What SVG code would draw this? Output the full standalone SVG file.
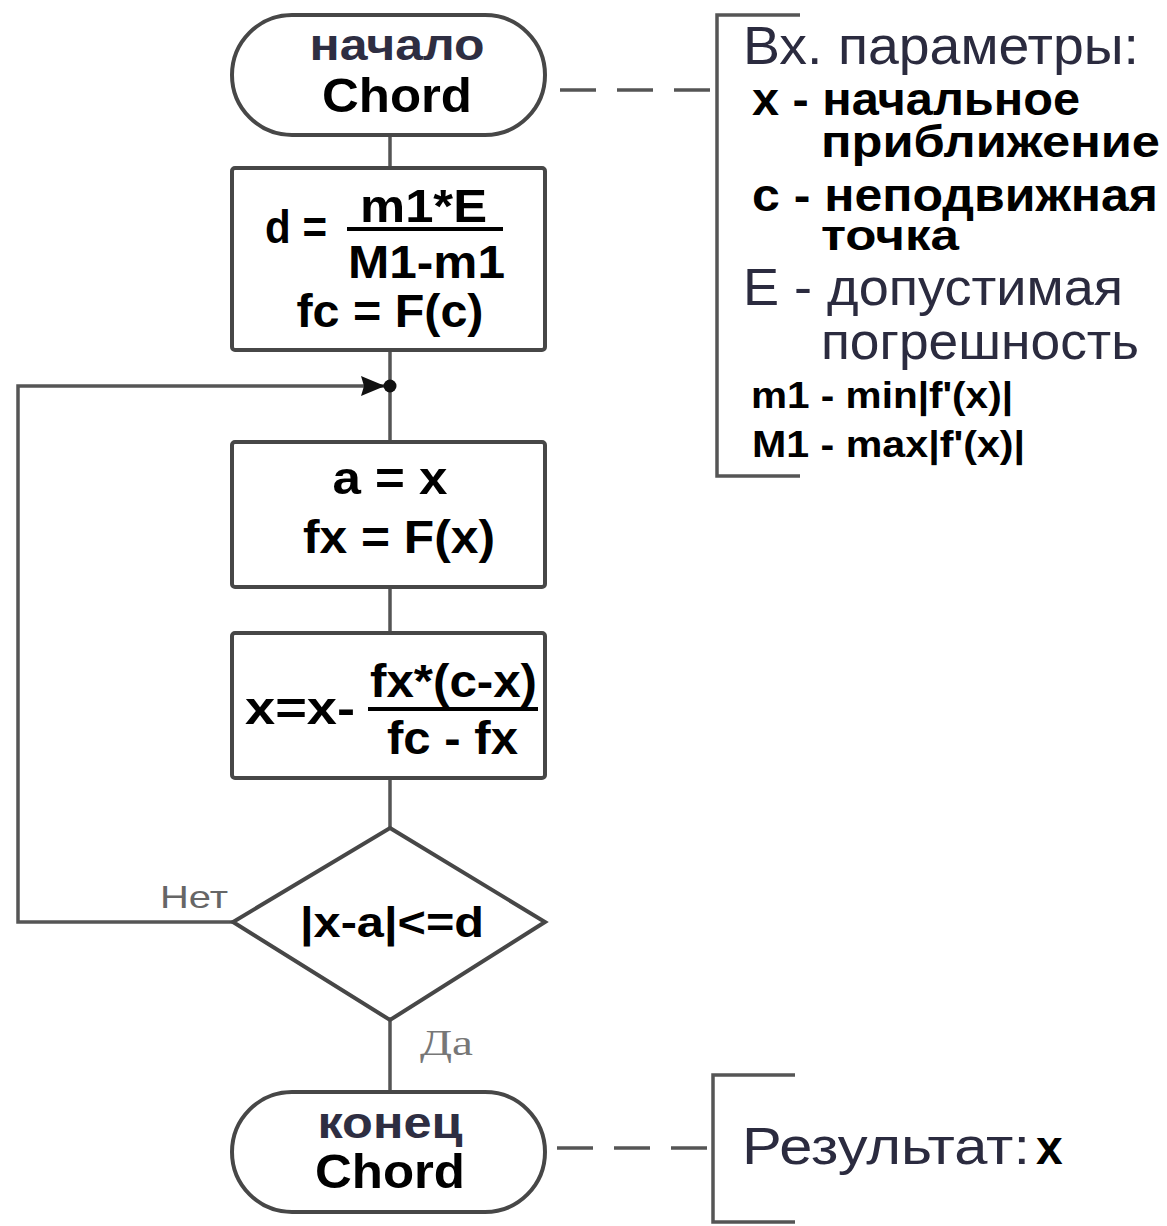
<svg xmlns="http://www.w3.org/2000/svg" width="1167" height="1226" viewBox="0 0 1167 1226">
<defs>
<style>
.shape{fill:#fff;stroke:#474747;stroke-width:4}
.line{fill:none;stroke:#555;stroke-width:3.5}
.dash{fill:none;stroke:#555;stroke-width:3.5;stroke-dasharray:36 21}
.t{font-family:"Liberation Sans",Arial,sans-serif;font-weight:bold;fill:#000}
.r{font-family:"Liberation Sans",Arial,sans-serif;fill:#2b2b3f}
.c{text-anchor:middle}
.soft{fill:#2e2e42}
.frac{stroke:#000;stroke-width:4}
</style>
<marker id="arr" markerWidth="24" markerHeight="20" viewBox="0 0 24 20" refX="23" refY="10" orient="auto" markerUnits="userSpaceOnUse">
<path d="M0,0 L24,10 L0,20 L3,10 z" fill="#111"/>
</marker>
</defs>

<g id="connectors">
<line class="line" x1="390" y1="135" x2="390" y2="168"/>
<line class="line" x1="390" y1="350" x2="390" y2="442"/>
<line class="line" x1="390" y1="587" x2="390" y2="633"/>
<line class="line" x1="390" y1="778" x2="390" y2="828"/>
<line class="line" x1="390" y1="1020" x2="390" y2="1092"/>
<polyline class="line" points="233,922 18,922 18,386 384,386" marker-end="url(#arr)"/>
<circle cx="390" cy="386" r="6.5" fill="#111"/>
<line class="dash" x1="560" y1="90" x2="717" y2="90"/>
<line class="dash" x1="557" y1="1148" x2="713" y2="1148"/>
<text x="160" y="908" style="font-family:'Liberation Sans',Arial,sans-serif;font-size:32px;fill:#666" textLength="68" lengthAdjust="spacingAndGlyphs">Нет</text>
<text x="420" y="1055" style="font-family:'Liberation Serif','Times New Roman',serif;font-size:36px;fill:#777" textLength="53" lengthAdjust="spacingAndGlyphs">Да</text>
</g>

<g id="start">
<rect class="shape" x="232" y="15" width="313" height="120" rx="60"/>
<text class="t c soft" x="397" y="60" font-size="44" textLength="175" lengthAdjust="spacingAndGlyphs">начало</text>
<text class="t c" x="397" y="112" font-size="48" textLength="150" lengthAdjust="spacingAndGlyphs">Chord</text>
</g>

<g id="init">
<rect class="shape" x="232" y="168" width="313" height="182" rx="3"/>
<text class="t" x="265" y="243" font-size="46" textLength="62" lengthAdjust="spacingAndGlyphs">d =</text>
<text class="t" x="360" y="222" font-size="46" textLength="127" lengthAdjust="spacingAndGlyphs">m1*E</text>
<line class="frac" x1="347" y1="229" x2="503" y2="229"/>
<text class="t" x="348" y="278" font-size="46" textLength="157" lengthAdjust="spacingAndGlyphs">M1-m1</text>
<text class="t c" x="390" y="327" font-size="46" textLength="187" lengthAdjust="spacingAndGlyphs">fc = F(c)</text>
</g>

<g id="assign">
<rect class="shape" x="232" y="442" width="313" height="145" rx="3"/>
<text class="t c" x="390" y="494" font-size="46" textLength="115" lengthAdjust="spacingAndGlyphs">a = x</text>
<text class="t c" x="399" y="553" font-size="46" textLength="192" lengthAdjust="spacingAndGlyphs">fx = F(x)</text>
</g>

<g id="update">
<rect class="shape" x="232" y="633" width="313" height="145" rx="3"/>
<text class="t" x="245" y="724" font-size="46" textLength="110" lengthAdjust="spacingAndGlyphs">x=x-</text>
<text class="t" x="370" y="697" font-size="46" textLength="167" lengthAdjust="spacingAndGlyphs">fx*(c-x)</text>
<line class="frac" x1="368" y1="709" x2="538" y2="709"/>
<text class="t" x="387" y="754" font-size="46" textLength="131" lengthAdjust="spacingAndGlyphs">fc - fx</text>
</g>

<g id="check">
<polygon class="shape" points="390,828 545,922 390,1020 233,922"/>
<text class="t c" x="392" y="937" font-size="42" textLength="184" lengthAdjust="spacingAndGlyphs">|x-a|&lt;=d</text>
</g>

<g id="end">
<rect class="shape" x="232" y="1092" width="313" height="120" rx="60"/>
<text class="t c soft" x="390" y="1138" font-size="44" textLength="145" lengthAdjust="spacingAndGlyphs">конец</text>
<text class="t c" x="390" y="1188" font-size="48" textLength="150" lengthAdjust="spacingAndGlyphs">Chord</text>
</g>

<g id="params">
<polyline class="line" points="800,15 717,15 717,476 800,476"/>
<text class="r" x="743" y="64" font-size="54" textLength="396" lengthAdjust="spacingAndGlyphs">Вх. параметры:</text>
<text class="t" x="752" y="115" font-size="46" textLength="328" lengthAdjust="spacingAndGlyphs">x - начальное</text>
<text class="t" x="821" y="157" font-size="44" textLength="339" lengthAdjust="spacingAndGlyphs">приближение</text>
<text class="t" x="752" y="211" font-size="46" textLength="406" lengthAdjust="spacingAndGlyphs">c - неподвижная</text>
<text class="t" x="821" y="250" font-size="42" textLength="138" lengthAdjust="spacingAndGlyphs">точка</text>
<text class="r" x="743" y="305" font-size="52" textLength="380" lengthAdjust="spacingAndGlyphs">E - допустимая</text>
<text class="r" x="821" y="359" font-size="52" textLength="318" lengthAdjust="spacingAndGlyphs">погрешность</text>
<text class="t" x="751" y="408" font-size="36" textLength="262" lengthAdjust="spacingAndGlyphs">m1 - min|f'(x)|</text>
<text class="t" x="752" y="457" font-size="36" textLength="273" lengthAdjust="spacingAndGlyphs">M1 - max|f'(x)|</text>
</g>

<g id="result">
<polyline class="line" points="795,1075 713,1075 713,1222 795,1222"/>
<text class="r" x="742" y="1164" font-size="52" textLength="288" lengthAdjust="spacingAndGlyphs">Результат:</text>
<text class="t" x="1036" y="1164" font-size="48">x</text>
</g>
</svg>
